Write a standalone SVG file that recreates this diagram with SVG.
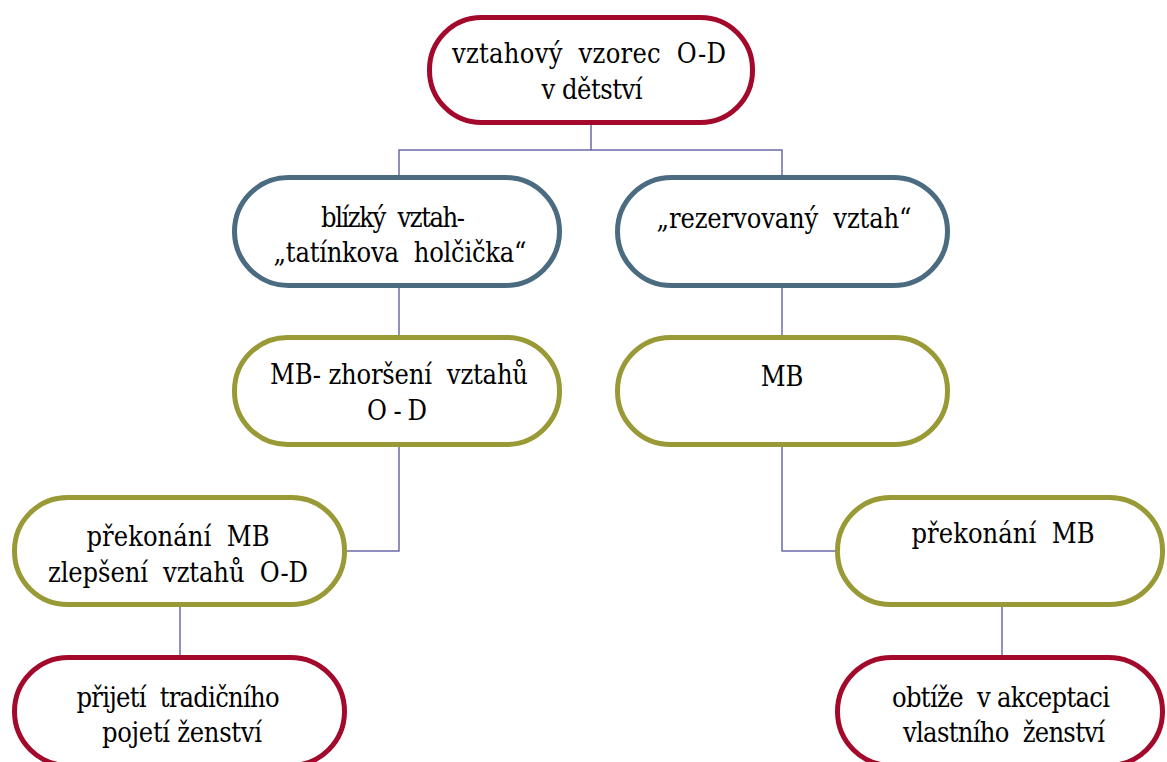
<svg xmlns="http://www.w3.org/2000/svg" width="1167" height="762" viewBox="0 0 1167 762">
<style>
  .box{fill:#ffffff;stroke-width:5}
  .red{stroke:#A3092B}
  .blue{stroke:#4B6B80}
  .olive{stroke:#999A36}
  .t{font-family:'DejaVu Serif Condensed','DejaVu Serif',serif;font-stretch:condensed;font-size:27px;fill:#000;text-anchor:middle;white-space:pre}
  .c{fill:none;stroke:#6B6BA8;stroke-width:1.5}
</style>
<rect width="1167" height="762" fill="#ffffff"/>
<g id="connectors">
  <polyline class="c" points="591,125 591,150 399,150 399,177"/>
  <polyline class="c" points="591,150 782,150 782,177"/>
  <line class="c" x1="399" y1="288" x2="399" y2="337"/>
  <line class="c" x1="782" y1="288" x2="782" y2="337"/>
  <polyline class="c" points="399,447 399,551 347,551"/>
  <polyline class="c" points="782,447 782,551 835,551"/>
  <line class="c" x1="180" y1="607" x2="180" y2="657"/>
  <line class="c" x1="1002" y1="607" x2="1002" y2="657"/>
</g>
<g id="n1">
  <rect class="box red" x="429.5" y="17.5" width="323" height="105" rx="52"/>
  <text class="t" xml:space="preserve" x="589" y="63" textLength="274" lengthAdjust="spacing">vztahový  vzorec  O-D</text>
  <text class="t" x="592" y="99" textLength="101" lengthAdjust="spacing">v dětství</text>
</g>
<g id="n2">
  <rect class="box blue" x="234.5" y="177.5" width="325" height="108" rx="54"/>
  <text class="t" xml:space="preserve" x="393" y="227" textLength="144" lengthAdjust="spacing">blízký  vztah-</text>
  <text class="t" xml:space="preserve" x="400" y="262" textLength="253" lengthAdjust="spacing">„tatínkova  holčička“</text>
</g>
<g id="n3">
  <rect class="box blue" x="617.5" y="177.5" width="330" height="108" rx="54"/>
  <text class="t" xml:space="preserve" x="784" y="228" textLength="255" lengthAdjust="spacing">„rezervovaný  vztah“</text>
</g>
<g id="n4">
  <rect class="box olive" x="234.5" y="337.5" width="325" height="107" rx="53"/>
  <text class="t" xml:space="preserve" x="399" y="384" textLength="258" lengthAdjust="spacing">MB- zhoršení  vztahů</text>
  <text class="t" x="397" y="420" textLength="60" lengthAdjust="spacing">O-D</text>
</g>
<g id="n5">
  <rect class="box olive" x="617.5" y="337.5" width="330" height="107" rx="53"/>
  <text class="t" x="782" y="386">MB</text>
</g>
<g id="n6">
  <rect class="box olive" x="14.5" y="497.5" width="330" height="107" rx="53"/>
  <text class="t" xml:space="preserve" x="178" y="546" textLength="183" lengthAdjust="spacing">překonání  MB</text>
  <text class="t" xml:space="preserve" x="178" y="582" textLength="260" lengthAdjust="spacing">zlepšení  vztahů  O-D</text>
</g>
<g id="n7">
  <rect class="box olive" x="837.5" y="497.5" width="325" height="107" rx="53"/>
  <text class="t" xml:space="preserve" x="1003" y="543" textLength="183" lengthAdjust="spacing">překonání  MB</text>
</g>
<g id="n8">
  <rect class="box red" x="14.5" y="657.5" width="330" height="108" rx="54"/>
  <text class="t" xml:space="preserve" x="178" y="707" textLength="203" lengthAdjust="spacing">přijetí  tradičního</text>
  <text class="t" x="182" y="742" textLength="160" lengthAdjust="spacing">pojetí ženství</text>
</g>
<g id="n9">
  <rect class="box red" x="837.5" y="657.5" width="325" height="108" rx="54"/>
  <text class="t" xml:space="preserve" x="1001" y="707" textLength="218" lengthAdjust="spacing">obtíže  v akceptaci</text>
  <text class="t" xml:space="preserve" x="1004" y="742" textLength="202" lengthAdjust="spacing">vlastního  ženství</text>
</g>
</svg>
